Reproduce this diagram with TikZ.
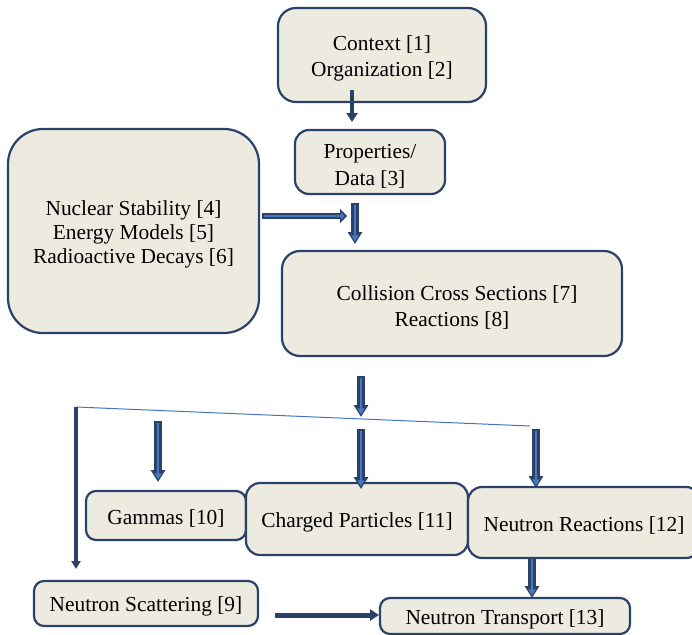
\documentclass[tikz,border=0pt]{standalone}
\usepackage{fontspec}
\setmainfont{Liberation Serif}
\newfontfamily\boxfont{Liberation Serif}
\usetikzlibrary{arrows.meta}
\definecolor{boxfill}{RGB}{237,234,224}
\definecolor{boxline}{RGB}{42,66,104}
\definecolor{arrblue}{RGB}{74,120,190}
\definecolor{thinblue}{RGB}{68,114,196}
\newcommand{\lowerstrut}{\rule{0pt}{22.5pt}}
\begin{document}
\begin{tikzpicture}[x=1pt,y=-1pt,
  box/.style={draw=boxline, line width=2.2pt, fill=boxfill, align=center,
    font=\boxfont\fontsize{21.4}{25.5}\selectfont, inner sep=0pt,
    execute at begin node={\rule{0pt}{21pt}}},
  blockarrow/.style={draw=boxline, line width=7.5pt,
    -{Triangle[length=12pt,width=14pt]},
    postaction={draw=arrblue, line width=2.8pt, shorten <=1.8pt, shorten >=2.6pt,
      -{Triangle[length=6pt,width=7pt]}}},
  darrow/.style={draw=boxline, line width=3.5pt, -{Triangle[length=9pt,width=11pt]}}
]
\useasboundingbox (0,0) rectangle (692,634);

\node[box, rounded corners=18pt, minimum width=208pt, minimum height=94pt, font=\boxfont\fontsize{21.4}{26}\selectfont] (ctx) at (382,55) {\lowerstrut Context [1]\\Organization [2]};
\node[box, rounded corners=14pt, minimum width=150pt, minimum height=64pt, font=\boxfont\fontsize{21.4}{27.5}\selectfont] (prop) at (370,162) {\lowerstrut Properties/\\Data [3]};
\node[box, rounded corners=35pt, minimum width=251pt, minimum height=204pt, font=\boxfont\fontsize{21.4}{24}\selectfont] (left) at (133.5,231) {\rule{0pt}{21.5pt}Nuclear Stability [4]\\Energy Models [5]\\Radioactive Decays [6]};
\node[box, rounded corners=18pt, minimum width=340pt, minimum height=105pt] (coll) at (452,303.5) {\lowerstrut\hspace*{10pt}Collision Cross Sections [7]\\Reactions [8]};
\node[box, rounded corners=10pt, minimum width=160pt, minimum height=49pt] (gam) at (166,515.5) {Gammas [10]};
\node[box, rounded corners=14pt, minimum width=222pt, minimum height=72pt] (chg) at (357,519) {Charged Particles [11]};
\node[box, rounded corners=14pt, minimum width=232pt, minimum height=71pt] (nr) at (584,522.5) {Neutron Reactions [12]};
\node[box, rounded corners=10pt, minimum width=224pt, minimum height=45pt] (ns) at (146,603.5) {Neutron Scattering [9]};
\node[box, rounded corners=10pt, minimum width=250pt, minimum height=36pt] (nt) at (505,616) {Neutron Transport [13]};

% free connector ends
\coordinate (c1s) at (352,90);  \coordinate (c1e) at (352,122);
\coordinate (p1s) at (355,203); \coordinate (p1e) at (355,244);
\coordinate (h1s) at (262,216); \coordinate (h1e) at (347,216);
\coordinate (k1s) at (361,376); \coordinate (k1e) at (361,417);
\coordinate (fork) at (76,407); \coordinate (forkend) at (530,426);
\coordinate (v1e) at (76,569);
\coordinate (g1s) at (158,421); \coordinate (g1e) at (158,482);
\coordinate (q1s) at (361,429); \coordinate (q1e) at (361,489);
\coordinate (r1s) at (536,429); \coordinate (r1e) at (536,488);
\coordinate (n1s) at (532,557); \coordinate (n1e) at (532,598);
\coordinate (s1s) at (275,615); \coordinate (s1e) at (379,615);

\draw[darrow] (c1s) -- (c1e);
\draw[blockarrow] (p1s) -- (p1e);
\draw[draw=boxline, line width=6pt, -{Triangle[length=7pt,width=14pt]},
  postaction={draw=arrblue, line width=2.2pt, shorten <=1.8pt, shorten >=2.4pt,
    -{Triangle[length=3.5pt,width=7pt]}}] (h1s) -- (h1e);
\draw[blockarrow] (k1s) -- (k1e);
\draw[thinblue, line width=1pt] (fork) -- (forkend);
\draw[darrow, line width=4pt, -{Triangle[length=8pt,width=9pt]}] (fork) -- (v1e);
\draw[blockarrow] (g1s) -- (g1e);
\draw[blockarrow] (q1s) -- (q1e);
\draw[blockarrow] (r1s) -- (r1e);
\draw[blockarrow] (n1s) -- (n1e);
\draw[darrow, line width=5pt] (s1s) -- (s1e);
\end{tikzpicture}
\end{document}
